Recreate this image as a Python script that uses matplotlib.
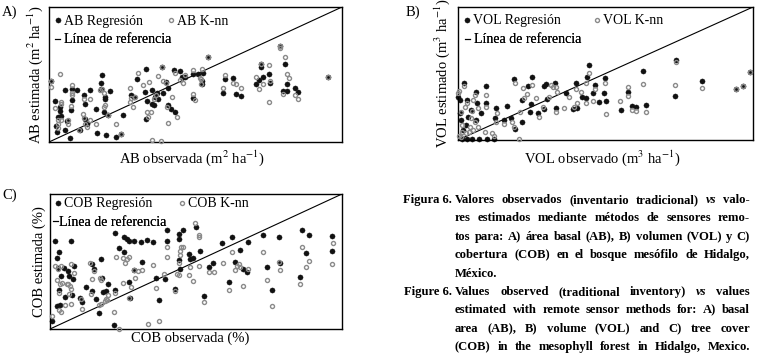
import matplotlib
matplotlib.use("Agg")
import matplotlib.pyplot as plt
from matplotlib.lines import Line2D

plt.rcParams['font.family'] = ['Liberation Serif', 'DejaVu Serif']
plt.rcParams['mathtext.fontset'] = 'stix'

# ---------------- Panel A : basal area (AB) ----------------
ab_reg_x = [1.9, 3.6, 3.6, 4.0, 3.2, 2.5, 5.4, 2.7, 7.2, 5.4, 6.3, 8.0, 7.9, 7.6, 9.4, 10.5, 11.9, 12.2, 12.3, 12.8,
            14.1, 16.0, 16.4, 19.3, 22.8, 24.6, 17.9, 18.2, 17.7, 19.0, 19.0, 18.7, 20.3, 20.9, 25.1, 27.9, 29.0, 30.2,
            33.0, 32.6, 33.3, 33.1, 35.0, 35.0, 35.7, 38.7, 36.9, 36.3, 37.1, 39.8, 40.7, 38.8, 40.7, 41.6, 43.0, 42.6,
            44.7, 45.3, 46.4, 49.0, 49.0, 51.0, 52.7, 52.3, 52.1, 54.4, 60.1, 59.3, 62.7, 63.7, 65.6, 72.2, 72.2, 71.7,
            73.2, 75.1, 75.5, 70.6, 78.7, 80.6, 81.2, 80.0, 81.2, 83.8, 84.9, 95.2, 0.8]
ab_reg_y = [30.5, 26.1, 22.8, 19.1, 18.6, 11.7, 9.2, 7.2, 3.2, 38.5, 15.6, 39.0, 31.0, 23.6, 38.5, 9.2, 34.7, 28.5, 17.4, 13.2,
            38.5, 24.1, 6.9, 5.5, 3.7, 5.7, 39.2, 49.6, 43.4, 33.5, 31.8, 22.3, 19.9, 38.0, 20.3, 34.7, 33.0, 46.7,
            54.1, 37.0, 30.5, 17.4, 38.5, 28.5, 27.3, 55.3, 36.0, 33.5, 31.5, 44.7, 39.7, 36.5, 27.3, 24.8, 22.3, 53.3,
            52.9, 48.4, 48.4, 50.4, 32.3, 50.4, 50.9, 45.4, 42.7, 62.8, 46.4, 36.5, 47.6, 35.2, 34.0, 57.6, 55.3, 45.9,
            48.4, 50.1, 43.9, 42.7, 71.2, 57.8, 42.7, 37.7, 37.7, 40.2, 36.7, 47.9, 45.2]
ab_knn_x = [0.8, 3.8, 4.0, 4.2, 2.1, 3.0, 4.1, 3.0, 3.2, 6.4, 6.4, 7.8, 7.8, 7.8, 7.4, 11.9, 11.5, 11.9, 12.3, 13.0,
            10.4, 14.1, 14.1, 16.2, 17.3, 18.2, 18.9, 19.2, 18.9, 20.1, 22.8, 24.6, 27.8, 28.1, 29.2, 27.5, 28.5, 30.3,
            32.2, 33.4, 34.9, 33.8, 34.3, 36.6, 35.8, 37.2, 38.9, 39.8, 42.0, 40.4, 43.7, 40.5, 35.1, 38.3, 43.0, 44.7,
            45.6, 46.4, 49.0, 49.3, 49.9, 51.5, 52.2, 51.9, 51.9, 60.1, 59.3, 62.7, 63.7, 65.6, 72.2, 75.1, 70.6, 75.5,
            72.9, 71.7, 75.1, 78.7, 79.0, 80.6, 81.2, 81.8, 80.0, 83.8, 84.9, 95.2, 0.8, 38.7, 54.4]
ab_knn_y = [40.9, 50.4, 29.8, 28.0, 25.3, 16.6, 16.1, 13.2, 10.2, 16.1, 13.2, 42.2, 36.5, 34.7, 26.6, 31.5, 21.1, 18.1, 13.6, 11.2,
            9.2, 31.5, 16.1, 13.6, 38.5, 39.0, 36.0, 27.3, 25.6, 19.9, 13.2, 6.2, 39.7, 32.3, 33.5, 29.8, 25.6, 51.4,
            42.2, 22.3, 22.3, 18.6, 44.7, 34.7, 31.5, 48.9, 45.2, 43.4, 33.5, 25.6, 18.6, 14.1, 1.7, 0.5, 50.9, 45.9,
            43.4, 49.9, 53.3, 35.5, 31.0, 47.1, 54.1, 46.4, 42.9, 49.9, 39.7, 43.9, 42.7, 39.7, 57.6, 57.1, 48.4, 45.4,
            42.7, 39.0, 29.3, 71.2, 69.5, 62.8, 50.1, 47.6, 35.2, 34.7, 31.5, 47.9, 45.2, 55.3, 62.8]

# ---------------- Panel B : volume (VOL) ----------------
vol_reg_x = [2.0, 0.1, 0.6, 3.2, 6.0, 9.4, 9.4, 6.6, 0.9, 4.3, 3.5, 7.7, 6.2, 0.8, 1.7, 2.8, 1.5, 3.2, 4.9, 7.1,
             9.9, 12.2, 12.8, 12.5, 15.6, 16.7, 17.9, 19.3, 21.6, 19.0, 23.8, 25.0, 21.8, 24.6, 24.3, 27.2, 29.2, 29.9,
             32.9, 30.3, 29.2, 33.1, 36.5, 39.0, 39.9, 42.1, 43.3, 40.3, 44.4, 43.7, 46.3, 45.8, 47.8, 49.7, 49.5, 50.1,
             55.1, 57.6, 59.1, 60.5, 63.6, 62.7, 74.0, 73.6, 82.8, 94.4, 96.6, 99.1]
vol_reg_y = [42.7, 32.7, 30.2, 30.2, 36.4, 40.7, 27.6, 27.6, 15.1, 22.6, 17.6, 20.1, 15.1, 20.1, 7.5, 11.3, 0.5, 0.5, 0.5, 0.5,
             0.5, 0.5, 23.9, 16.3, 15.1, 25.6, 16.3, 8.0, 13.8, 45.7, 40.7, 47.7, 30.2, 27.1, 21.4, 20.6, 40.7, 42.0,
             42.7, 30.7, 23.1, 23.9, 35.2, 23.1, 42.7, 32.7, 31.9, 24.4, 56.5, 47.7, 41.5, 35.2, 28.9, 46.5, 35.7, 29.6,
             22.6, 36.4, 25.6, 25.1, 26.4, 52.0, 60.3, 32.9, 44.0, 38.7, 40.7, 50.8]
vol_knn_x = [2.0, 0.1, 3.2, 2.4, 5.8, 5.1, 9.4, 9.4, 6.9, 0.9, 1.2, 4.9, 4.3, 5.8, 1.5, 2.6, 0.3, 1.1, 3.7, 5.1,
             6.8, 4.0, 9.2, 12.2, 11.6, 13.3, 12.8, 15.6, 18.2, 19.0, 20.9, 19.3, 22.1, 25.0, 22.4, 23.5, 27.5, 26.3,
             30.8, 31.4, 32.2, 33.1, 33.4, 28.8, 33.1, 37.6, 35.9, 39.3, 39.9, 41.8, 40.3, 43.3, 44.4, 43.5, 46.3, 45.8,
             49.7, 50.1, 55.0, 57.6, 57.6, 59.1, 60.5, 63.6, 62.7, 74.0, 73.6, 82.8, 94.4, 96.6, 99.1, 20.7, 0.3]
vol_knn_y = [40.7, 35.7, 27.6, 25.1, 33.9, 30.2, 33.9, 25.1, 23.9, 21.4, 11.3, 22.1, 16.3, 13.8, 6.3, 5.0, 3.0, 2.5, 6.3, 7.5,
             10.1, 10.1, 6.3, 3.0, 5.0, 20.6, 13.8, 12.1, 13.8, 10.1, 21.4, 42.7, 38.9, 41.5, 31.9, 34.4, 17.6, 31.4,
             32.7, 41.5, 39.7, 39.7, 36.4, 25.1, 21.4, 32.7, 23.9, 25.1, 38.2, 36.4, 28.1, 27.6, 50.3, 42.7, 38.2, 29.6,
             42.7, 19.6, 29.6, 39.7, 33.4, 22.6, 22.1, 20.9, 42.2, 59.0, 41.2, 38.9, 38.7, 40.7, 50.8, 0.5, 37.2]

# ---------------- Panel C : cover (COB) ----------------
cob_reg_x = [1.8, 7.1, 3.0, 2.3, 2.7, 3.1, 2.5, 3.4, 3.8, 5.3, 4.8, 6.3, 6.6, 7.8, 8.2, 7.4, 10.3, 11.0, 12.3, 14.3,
             14.9, 14.5, 15.7, 16.7, 17.6, 17.8, 18.3, 19.2, 20.0, 22.1, 21.9, 22.4, 23.5, 25.3, 25.5, 26.3, 27.1, 27.4,
             27.0, 28.6, 28.8, 31.0, 31.5, 33.3, 35.3, 36.2, 37.3, 39.3, 40.0, 40.0, 42.9, 44.2, 44.3, 44.3, 44.5, 45.6,
             47.5, 48.0, 48.9, 50.1, 51.2, 52.6, 54.3, 55.8, 59.0, 61.3, 62.3, 63.5, 64.9, 66.1, 67.4, 67.7, 73.1, 74.3,
             75.9, 78.4, 78.6, 85.7, 86.2, 87.8, 88.7, 96.5, 96.5, 0.6]
cob_reg_y = [65.3, 65.3, 56.7, 52.5, 45.1, 29.1, 16.7, 17.7, 38.9, 23.6, 45.1, 43.3, 39.4, 36.9, 46.8, 25.4, 22.9, 19.7, 30.8, 48.0,
             44.3, 28.3, 22.4, 11.8, 52.2, 37.7, 27.6, 27.8, 33.5, 29.1, 2.7, 70.9, 59.9, 56.7, 68.5, 66.5, 35.0, 22.9,
             65.5, 65.5, 43.8, 64.5, 50.0, 66.0, 64.5, 37.7, 21.2, 37.2, 73.4, 65.3, 30.0, 67.0, 70.4, 51.2, 44.3, 73.4,
             55.7, 51.5, 52.7, 75.9, 57.6, 24.1, 45.8, 48.8, 63.5, 34.7, 68.5, 49.3, 58.4, 44.3, 41.9, 64.3, 70.0, 45.8,
             29.1, 68.5, 48.8, 38.2, 73.2, 56.2, 69.7, 69.0, 57.9, 5.7]
cob_knn_x = [0.8, 1.8, 2.9, 3.7, 2.3, 3.4, 4.0, 3.1, 3.2, 3.7, 5.3, 5.7, 6.3, 6.9, 7.3, 7.1, 6.4, 8.2, 7.1, 10.6,
             10.9, 13.7, 14.2, 14.3, 14.9, 17.1, 17.5, 16.7, 17.5, 18.9, 19.4, 20.0, 19.2, 22.1, 21.9, 22.5, 23.8, 25.0,
             25.1, 25.8, 26.3, 27.2, 27.7, 26.9, 28.6, 29.1, 30.2, 31.5, 33.4, 35.2, 36.2, 37.3, 39.1, 39.9, 39.9, 42.9,
             43.5, 44.3, 44.6, 44.8, 45.5, 44.6, 44.1, 47.5, 48.0, 48.9, 49.7, 50.9, 51.1, 51.1, 52.6, 54.3, 56.0, 59.2,
             61.3, 62.4, 63.5, 64.2, 64.7, 65.1, 66.1, 67.8, 73.1, 74.3, 75.9, 78.4, 78.6, 85.7, 86.2, 87.8, 88.7, 96.8,
             96.5]
cob_knn_y = [9.4, 46.3, 44.6, 46.6, 36.5, 33.3, 34.0, 26.6, 14.3, 12.3, 17.7, 33.5, 33.0, 31.5, 30.0, 18.7, 25.6, 41.6, 48.0, 22.4,
             14.8, 48.8, 26.1, 37.2, 43.3, 37.7, 36.5, 17.7, 18.5, 20.4, 21.7, 25.4, 22.4, 26.6, 12.3, 53.2, 0.2, 34.0,
             52.5, 48.8, 51.7, 53.0, 31.0, 22.9, 43.8, 37.9, 42.6, 43.8, 3.9, 47.3, 30.3, 6.2, 40.6, 53.2, 60.6, 28.3,
             40.9, 40.1, 58.1, 60.6, 61.1, 54.9, 48.8, 40.1, 45.8, 35.5, 78.3, 69.7, 68.0, 46.8, 20.2, 42.1, 42.1, 48.8,
             28.6, 56.9, 43.8, 46.8, 48.0, 45.8, 32.0, 44.6, 57.4, 36.5, 16.7, 50.0, 43.8, 33.7, 60.6, 45.8, 50.5, 63.5,
             48.0]

ref_line = [0, 100]

panels = [
    dict(letter="A)", reg=(ab_reg_x, ab_reg_y), knn=(ab_knn_x, ab_knn_y),
         lab_reg="AB Regresión", lab_knn="AB K-nn",
         xlabel=r"AB observada (m$^{2}$ ha$^{-1}$)", ylabel=r"AB estimada (m$^{2}$ ha$^{-1}$)"),
    dict(letter="B)", reg=(vol_reg_x, vol_reg_y), knn=(vol_knn_x, vol_knn_y),
         lab_reg="VOL Regresión", lab_knn="VOL K-nn",
         xlabel=r"VOL observado (m$^{3}$ ha$^{-1}$)", ylabel=r"VOL estimado (m$^{3}$ ha$^{-1}$)"),
    dict(letter="C)", reg=(cob_reg_x, cob_reg_y), knn=(cob_knn_x, cob_knn_y),
         lab_reg="COB Regresión", lab_knn="COB K-nn",
         xlabel="COB observada (%)", ylabel="COB estimada (%)"),
]
lab_line = "Línea de referencia"

W, H = 773, 358
fig = plt.figure(figsize=(W / 100, H / 100), dpi=100)
fig.patch.set_facecolor('white')

# axes rectangles in pixels (left, top, right, bottom)
rects = [(49, 7, 342, 142), (458, 7, 753, 140), (50, 194, 342, 329)]
xlab_pos = [(0.488, -0.045), (0.488, -0.06), (0.481, -0.015)]
ylab_pos = [-0.012, -0.021, -0.014]
letter_pos = [(9.5, 12.5), (413, 12.5), (9.5, 195)]
leg_rows = [(0.896, 0.756), (0.895, 0.752), (0.926, 0.787)]
leg_cols = [(0.018, 0.404, 0.020, 0.30), (0.019, 0.458, 0.024, 0.28), (0.016, 0.439, 0.011, 0.05)]

REG_COLOR = '#111111'
KNN_COLOR = '#8a8a8a'
FS = 10.5
LFS = 10
REG_MS, KNN_MS, KNN_MEW = 3.7, 2.9, 1.0

for p, (l, t, r, b), xl, yl, lp, rows, cols in zip(panels, rects, xlab_pos, ylab_pos, letter_pos, leg_rows, leg_cols):
    ax = fig.add_axes([l / W, 1 - b / H, (r - l) / W, (b - t) / H])
    ax.plot(ref_line, ref_line, color='black', lw=0.8, zorder=1)
    ax.plot(p['reg'][0], p['reg'][1], 'o', ms=REG_MS, mfc=REG_COLOR, mec=REG_COLOR, mew=0.3,
            ls='none', zorder=2, clip_on=False)
    ax.plot(p['knn'][0], p['knn'][1], 'o', ms=KNN_MS, mfc='none', mec=KNN_COLOR, mew=KNN_MEW,
            ls='none', zorder=3, clip_on=False)
    ax.set_xlim(0, 100)
    ax.set_ylim(0, 100)
    ax.set_xticks([])
    ax.set_yticks([])
    for s in ax.spines.values():
        s.set_linewidth(1.0)
        s.set_color('black')
    ax.set_xlabel(p['xlabel'], fontsize=FS)
    ax.xaxis.set_label_coords(xl[0], xl[1])
    ax.xaxis.label.set_va('top')
    ax.set_ylabel(p['ylabel'], fontsize=FS)
    ax.yaxis.set_label_coords(yl, 0.5)
    fig.text(lp[0] / W, 1 - lp[1] / H, p['letter'], fontsize=FS, ha='center', va='center')

    h_reg = Line2D([], [], marker='o', ls='none', ms=REG_MS, mfc=REG_COLOR, mec=REG_COLOR, mew=0.3)
    h_knn = Line2D([], [], marker='o', ls='none', ms=KNN_MS, mfc='none', mec=KNN_COLOR, mew=KNN_MEW)
    h_line = Line2D([], [], color='black', lw=0.8)
    entries = [(h_reg, p['lab_reg'], cols[0], rows[0], 0.5, 0.18),
               (h_knn, p['lab_knn'], cols[1], rows[0], 0.5, 0.18),
               (h_line, lab_line, cols[2], rows[1], 0.35, cols[3])]
    for h, lab, x, y, hl, pad in entries:
        leg = ax.legend([h], [lab], loc='center left', bbox_to_anchor=(x, y),
                        bbox_transform=ax.transAxes, frameon=False, borderpad=0,
                        borderaxespad=0, handlelength=hl, handletextpad=pad,
                        fontsize=LFS, handleheight=0.7)
        ax.add_artist(leg)

# ---------------- caption (justified) ----------------
caption_es = ["Valores observados (inventario tradicional) *vs* valo-",
              "res estimados mediante métodos de sensores remo-",
              "tos para: A) área basal (AB), B) volumen (VOL) y C)",
              "cobertura (COB) en el bosque mesófilo de Hidalgo,",
              "México."]
caption_en = ["Values observed (traditional inventory) *vs* values",
              "estimated with remote sensor methods for: A) basal",
              "area (AB), B) volume (VOL) and C) tree cover",
              "(COB) in the mesophyll forest in Hidalgo, Mexico."]
renderer = fig.canvas.get_renderer()
x_head_right, x0, x1 = 452, 455, 750
y_first, dy = 200, 18.4


def style_of(w):
    return 'italic' if (w.startswith('*') and w.endswith('*')) else 'normal'


def natural_width(text, size):
    t = fig.text(0, 0, text.replace('*', ''), fontsize=size, fontweight='bold')
    wd = t.get_window_extent(renderer).width
    t.remove()
    return wd


# caption size: as large as fits the column, capped at ~9 pt
base = 10.0
widest = max(natural_width(s, base) for s in caption_es[:-1] + caption_en)
CFS = min(9.1, base * (x1 - x0) / widest * 0.985)


def draw_line(text, y, justify):
    words = text.split(' ')
    objs = []
    for w in words:
        o = fig.text(0, 1 - y / H, w.strip('*'), fontsize=CFS, fontweight='bold',
                     style=style_of(w), va='center', ha='left')
        objs.append(o)
    widths = [o.get_window_extent(renderer).width for o in objs]
    if justify and len(objs) > 1:
        gap = (x1 - x0 - sum(widths)) / (len(objs) - 1)
    else:
        gap = CFS * 100 / 72 * 0.25
    x = x0
    for o, wd in zip(objs, widths):
        o.set_x(x / W)
        x += wd + gap


lines = [("Figura 6.", caption_es), ("Figure 6.", caption_en)]
k = 0
for head, body in lines:
    y = y_first + k * dy
    fig.text(x_head_right / W, 1 - y / H, head, fontsize=CFS, fontweight='bold', va='center', ha='right')
    for i, ln in enumerate(body):
        y = y_first + k * dy
        last = (i == len(body) - 1)
        draw_line(ln, y, justify=(not last) or len(ln) > 40)
        k += 1

fig.savefig("out.png", dpi=100, facecolor='white')
